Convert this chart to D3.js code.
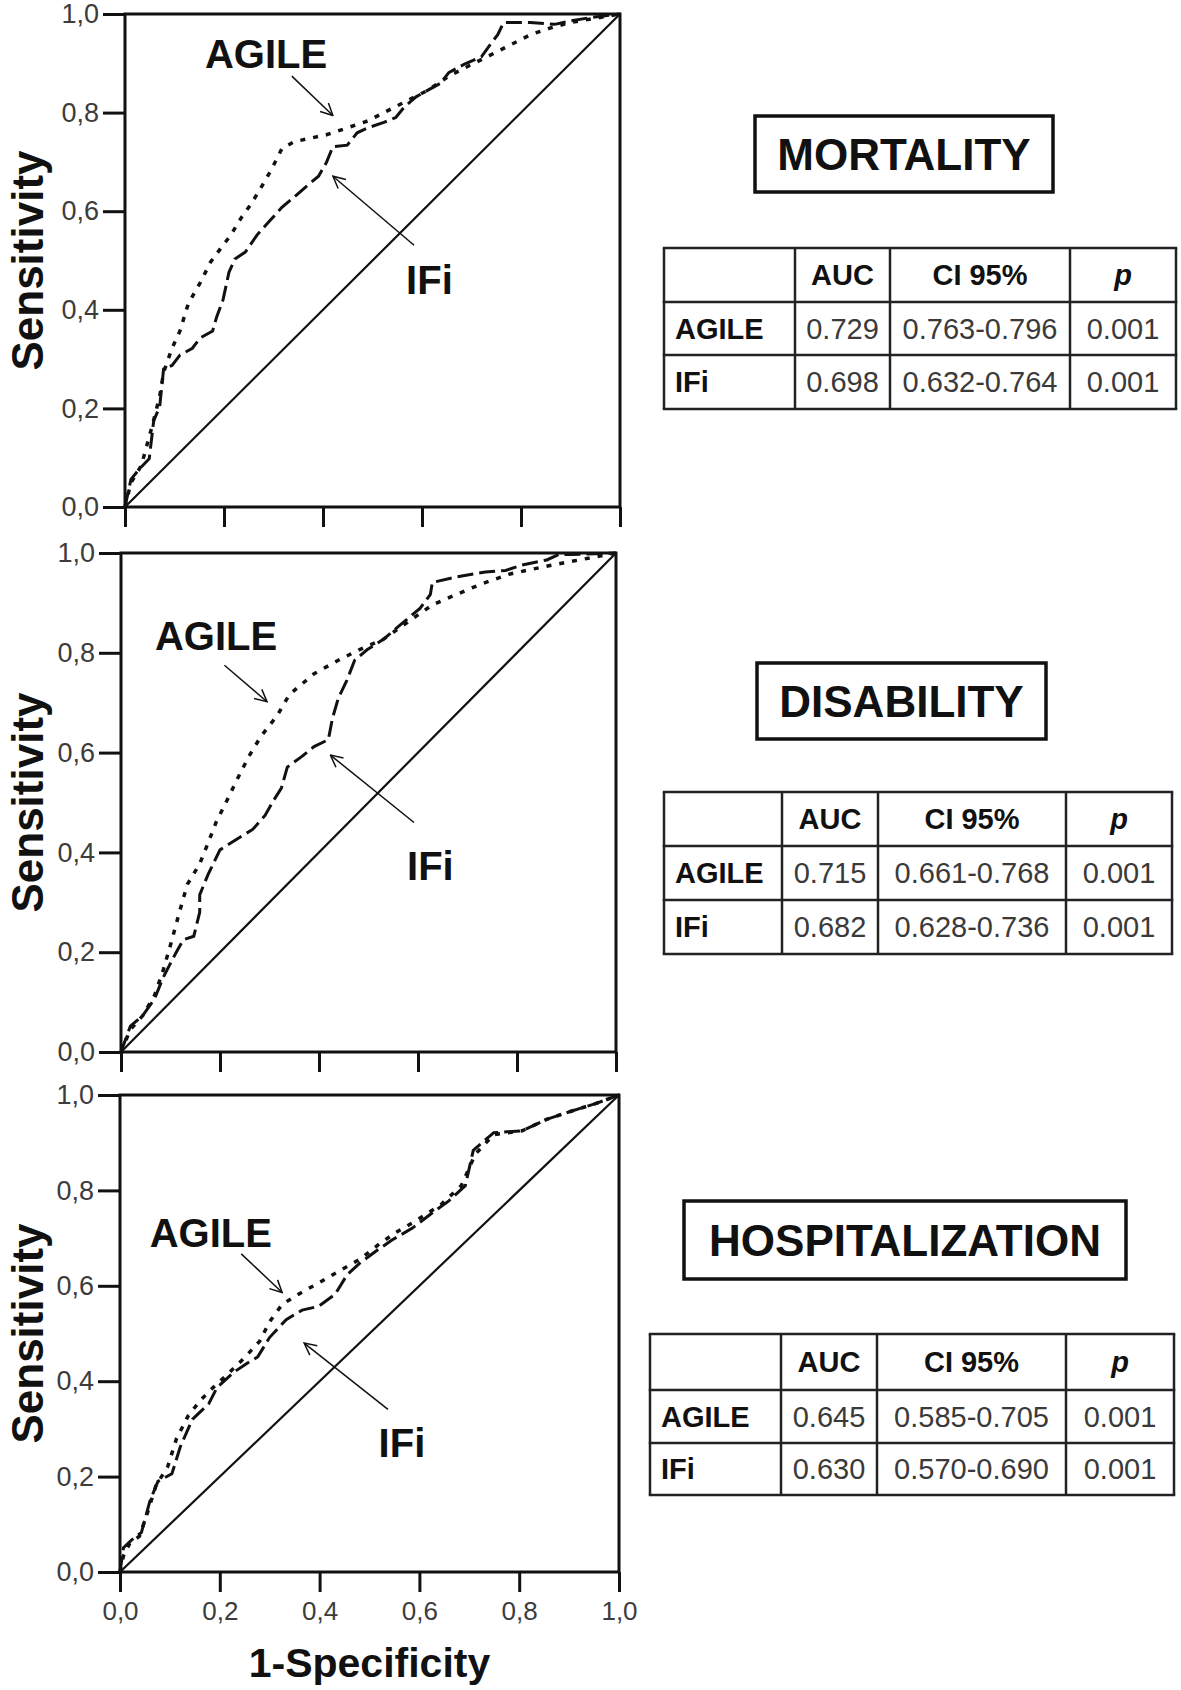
<!DOCTYPE html>
<html>
<head>
<meta charset="utf-8">
<script src="https://cdn.jsdelivr.net/npm/d3@7"></script>
<style>
  html, body { margin: 0; padding: 0; background: #fff; }
  svg { display: block; }
</style>
</head>
<body>
<svg id="chart" width="1181" height="1690"></svg>
<script>
// ---------------- DATA ----------------
const outcomes = ["MORTALITY", "DISABILITY", "HOSPITALIZATION"];
const seriesNames = ["AGILE", "IFi"];
const tickValues = [0, 0.2, 0.4, 0.6, 0.8, 1.0];
const tickLabels = ["0,0", "0,2", "0,4", "0,6", "0,8", "1,0"];
const xAxisTitle = "1-Specificity";
const yAxisTitle = "Sensitivity";

// ROC curves [1-specificity, sensitivity]
const mortalityAgile = [[0,0],[0.012,0.049],[0.033,0.084],[0.054,0.161],[0.070,0.224],[0.078,0.273],[0.095,0.322],[0.111,0.357],[0.128,0.413],[0.152,0.455],[0.173,0.497],[0.193,0.524],[0.214,0.552],[0.235,0.587],[0.255,0.615],[0.276,0.650],[0.296,0.685],[0.317,0.727],[0.342,0.741],[0.374,0.748],[0.407,0.755],[0.449,0.769],[0.490,0.783],[0.531,0.804],[0.572,0.825],[0.613,0.846],[0.654,0.874],[0.695,0.895],[0.737,0.916],[0.778,0.937],[0.819,0.958],[0.860,0.972],[0.901,0.983],[0.942,0.990],[1,1]];
const mortalityIFi = [[0,0],[0.012,0.056],[0.029,0.077],[0.049,0.098],[0.058,0.175],[0.070,0.203],[0.078,0.280],[0.095,0.287],[0.111,0.308],[0.136,0.322],[0.152,0.343],[0.177,0.357],[0.185,0.385],[0.198,0.420],[0.210,0.476],[0.222,0.503],[0.243,0.517],[0.267,0.552],[0.292,0.580],[0.317,0.608],[0.342,0.629],[0.366,0.650],[0.391,0.671],[0.407,0.699],[0.420,0.731],[0.449,0.734],[0.469,0.759],[0.490,0.769],[0.523,0.780],[0.547,0.790],[0.564,0.811],[0.588,0.832],[0.613,0.846],[0.638,0.860],[0.654,0.881],[0.687,0.899],[0.720,0.913],[0.737,0.937],[0.753,0.958],[0.765,0.983],[0.819,0.983],[0.868,0.979],[0.901,0.986],[0.942,0.993],[1,1]];

const disabilityAgile = [[0,0],[0.019,0.045],[0.044,0.073],[0.068,0.114],[0.085,0.163],[0.101,0.218],[0.118,0.280],[0.134,0.336],[0.159,0.377],[0.176,0.419],[0.192,0.460],[0.213,0.502],[0.233,0.543],[0.258,0.592],[0.283,0.633],[0.316,0.675],[0.340,0.716],[0.390,0.758],[0.439,0.785],[0.481,0.806],[0.530,0.827],[0.580,0.862],[0.629,0.896],[0.678,0.917],[0.728,0.938],[0.786,0.958],[0.852,0.972],[0.909,0.983],[1,1]];
const disabilityIFi = [[0,0],[0.019,0.052],[0.044,0.073],[0.068,0.107],[0.085,0.149],[0.110,0.197],[0.126,0.225],[0.147,0.232],[0.159,0.280],[0.159,0.315],[0.176,0.356],[0.200,0.405],[0.233,0.426],[0.266,0.446],[0.291,0.474],[0.307,0.502],[0.324,0.529],[0.336,0.571],[0.365,0.592],[0.390,0.612],[0.419,0.626],[0.427,0.668],[0.439,0.709],[0.456,0.744],[0.472,0.785],[0.497,0.806],[0.530,0.827],[0.563,0.855],[0.604,0.889],[0.625,0.917],[0.629,0.941],[0.678,0.952],[0.736,0.962],[0.777,0.965],[0.810,0.976],[0.860,0.986],[0.884,0.997],[0.909,0.997],[1,1]];

const hospitalAgile = [[0,0],[0.007,0.034],[0.019,0.059],[0.039,0.075],[0.055,0.124],[0.072,0.181],[0.096,0.222],[0.113,0.279],[0.137,0.328],[0.162,0.361],[0.186,0.386],[0.219,0.418],[0.251,0.451],[0.280,0.484],[0.300,0.525],[0.325,0.561],[0.357,0.582],[0.398,0.606],[0.439,0.631],[0.480,0.655],[0.520,0.688],[0.553,0.712],[0.594,0.737],[0.643,0.770],[0.684,0.810],[0.712,0.876],[0.749,0.917],[0.806,0.925],[0.855,0.949],[0.904,0.966],[0.953,0.982],[1,1]];
const hospitalIFi = [[0,0],[0.007,0.051],[0.023,0.067],[0.043,0.083],[0.060,0.149],[0.076,0.190],[0.104,0.206],[0.121,0.263],[0.145,0.320],[0.178,0.353],[0.194,0.386],[0.227,0.418],[0.251,0.435],[0.276,0.451],[0.300,0.492],[0.333,0.529],[0.365,0.549],[0.398,0.557],[0.431,0.582],[0.455,0.623],[0.480,0.647],[0.512,0.672],[0.545,0.696],[0.586,0.721],[0.626,0.753],[0.659,0.778],[0.692,0.810],[0.708,0.884],[0.749,0.921],[0.806,0.925],[0.855,0.949],[0.904,0.966],[0.953,0.982],[1,1]];

// table contents
const tableHeader = ["", "AUC", "CI 95%", "p"];
const mortalityAUC = ["0.729", "0.698"];
const mortalityCI = ["0.763-0.796", "0.632-0.764"];
const mortalityP = ["0.001", "0.001"];
const disabilityAUC = ["0.715", "0.682"];
const disabilityCI = ["0.661-0.768", "0.628-0.736"];
const disabilityP = ["0.001", "0.001"];
const hospitalAUC = ["0.645", "0.630"];
const hospitalCI = ["0.585-0.705", "0.570-0.690"];
const hospitalP = ["0.001", "0.001"];

// ---------------- LAYOUT ----------------
const FONT = "'Liberation Sans', Arial, Helvetica, sans-serif";
const panels = [
  { title: outcomes[0], agile: mortalityAgile, ifi: mortalityIFi,
    auc: mortalityAUC, ci: mortalityCI, p: mortalityP,
    frame: {l:125, r:620, t:14, b:507}, xLabels: false,
    agileLbl: [0.285, 0.920], agileArrow: [[0.337,0.874],[0.420,0.794]],
    ifiLbl: [0.615, 0.462], ifiArrow: [[0.584,0.531],[0.420,0.671]],
    box: {x0:755, x1:1053, y0:116, y1:192},
    table: {cols:[664, 795, 890, 1070, 1176], rows:[248, 302, 355, 409]} },
  { title: outcomes[1], agile: disabilityAgile, ifi: disabilityIFi,
    auc: disabilityAUC, ci: disabilityCI, p: disabilityP,
    frame: {l:121, r:616, t:553, b:1052}, xLabels: false,
    agileLbl: [0.192, 0.834], agileArrow: [[0.209,0.775],[0.295,0.702]],
    ifiLbl: [0.625, 0.374], ifiArrow: [[0.592,0.460],[0.423,0.595]],
    box: {x0:757, x1:1046, y0:663, y1:739},
    table: {cols:[664, 782, 878, 1066, 1172], rows:[792, 846, 900, 954]} },
  { title: outcomes[2], agile: hospitalAgile, ifi: hospitalIFi,
    auc: hospitalAUC, ci: hospitalCI, p: hospitalP,
    frame: {l:120, r:619, t:1095, b:1572}, xLabels: true,
    agileLbl: [0.182, 0.712], agileArrow: [[0.243,0.667],[0.325,0.586]],
    ifiLbl: [0.565, 0.271], ifiArrow: [[0.537,0.341],[0.369,0.480]],
    box: {x0:684, x1:1126, y0:1201, y1:1279},
    table: {cols:[650, 781, 877, 1066, 1174], rows:[1334, 1390, 1443, 1495]} }
];

const svg = d3.select("#chart");

const defs = svg.append("defs");
defs.append("marker")
  .attr("id", "arrow")
  .attr("viewBox", "0 0 14 14")
  .attr("refX", 13).attr("refY", 7)
  .attr("markerWidth", 14).attr("markerHeight", 14)
  .attr("markerUnits", "userSpaceOnUse")
  .attr("orient", "auto")
  .append("path")
  .attr("d", "M1,1 L13,7 L1,13")
  .attr("fill", "none").attr("stroke", "#111").attr("stroke-width", 1.5);

const fmt = (d) => tickLabels[tickValues.indexOf(d)];

panels.forEach((P) => {
  const f = P.frame;
  const x = d3.scaleLinear().domain([0, 1]).range([f.l, f.r]);
  const y = d3.scaleLinear().domain([0, 1]).range([f.b, f.t]);
  const g = svg.append("g");

  // y axis
  const ya = g.append("g").attr("transform", `translate(${f.l},0)`)
    .call(d3.axisLeft(y).tickValues(tickValues).tickFormat(fmt).tickSize(22).tickSizeOuter(0).tickPadding(4));
  // x axis
  const xa = g.append("g").attr("transform", `translate(0,${f.b})`)
    .call(d3.axisBottom(x).tickValues(tickValues).tickFormat(P.xLabels ? fmt : () => "").tickSize(20).tickSizeOuter(0).tickPadding(10));
  [ya, xa].forEach(a => {
    a.select(".domain").remove();
    a.selectAll(".tick line").attr("stroke", "#111").attr("stroke-width", 3);
    a.selectAll(".tick text").attr("fill", "#3c3c3c")
      .style("font-family", FONT).style("font-size", "26px");
  });
  ya.selectAll(".tick text").style("font-size", "27px");

  // frame
  g.append("rect")
    .attr("x", x(0)).attr("y", y(1))
    .attr("width", x(1) - x(0)).attr("height", y(0) - y(1))
    .attr("fill", "none").attr("stroke", "#111").attr("stroke-width", 3);

  // diagonal
  g.append("line")
    .attr("x1", x(0)).attr("y1", y(0)).attr("x2", x(1)).attr("y2", y(1))
    .attr("stroke", "#111").attr("stroke-width", 2.2);

  const line = d3.line().x(d => x(d[0])).y(d => y(d[1]));
  g.append("path").datum(P.agile).attr("d", line)
    .attr("fill", "none").attr("stroke", "#111").attr("stroke-width", 3.5)
    .attr("stroke-dasharray", "5,8");
  g.append("path").datum(P.ifi).attr("d", line)
    .attr("fill", "none").attr("stroke", "#111").attr("stroke-width", 3)
    .attr("stroke-dasharray", "16,6");

  // annotations
  const ann = [[seriesNames[0], P.agileLbl, P.agileArrow], [seriesNames[1], P.ifiLbl, P.ifiArrow]];
  ann.forEach(([name, pos, arr]) => {
    g.append("text").text(name)
      .attr("x", x(pos[0])).attr("y", y(pos[1]))
      .attr("text-anchor", "middle").attr("dy", "0.36em")
      .style("font-family", FONT).style("font-size", "40px").style("font-weight", "bold")
      .attr("fill", "#111");
    g.append("line")
      .attr("x1", x(arr[0][0])).attr("y1", y(arr[0][1]))
      .attr("x2", x(arr[1][0])).attr("y2", y(arr[1][1]))
      .attr("stroke", "#111").attr("stroke-width", 1.5)
      .attr("marker-end", "url(#arrow)");
  });

  // y axis title
  g.append("text").text(yAxisTitle)
    .attr("transform", `translate(43,${(f.t + f.b) / 2}) rotate(-90)`)
    .attr("text-anchor", "middle")
    .style("font-family", FONT).style("font-size", "44px").style("font-weight", "bold")
    .attr("fill", "#111");

  if (P.xLabels) {
    g.append("text").text(xAxisTitle)
      .attr("x", (f.l + f.r) / 2).attr("y", 1677)
      .attr("text-anchor", "middle")
      .style("font-family", FONT).style("font-size", "41px").style("font-weight", "bold")
      .attr("fill", "#111");
  }

  // title box
  const B = P.box;
  g.append("rect").attr("x", B.x0).attr("y", B.y0)
    .attr("width", B.x1 - B.x0).attr("height", B.y1 - B.y0)
    .attr("fill", "none").attr("stroke", "#111").attr("stroke-width", 3.5);
  g.append("text").text(P.title)
    .attr("x", (B.x0 + B.x1) / 2).attr("y", (B.y0 + B.y1) / 2)
    .attr("dy", "0.36em").attr("text-anchor", "middle")
    .style("font-family", FONT).style("font-size", "44px").style("font-weight", "bold")
    .attr("fill", "#111");

  // table
  const T = P.table;
  const tg = g.append("g");
  T.cols.forEach(cx => tg.append("line")
    .attr("x1", cx).attr("x2", cx).attr("y1", T.rows[0]).attr("y2", T.rows[T.rows.length - 1])
    .attr("stroke", "#222").attr("stroke-width", 2.5));
  T.rows.forEach(ry => tg.append("line")
    .attr("x1", T.cols[0] - 1.25).attr("x2", T.cols[T.cols.length - 1] + 1.25).attr("y1", ry).attr("y2", ry)
    .attr("stroke", "#222").attr("stroke-width", 2.5));

  const cellRows = [
    tableHeader,
    [seriesNames[0], P.auc[0], P.ci[0], P.p[0]],
    [seriesNames[1], P.auc[1], P.ci[1], P.p[1]]
  ];
  cellRows.forEach((row, ri) => {
    const cy = (T.rows[ri] + T.rows[ri + 1]) / 2;
    row.forEach((val, ci) => {
      if (!val) return;
      const isLabel = ci === 0;
      const isHeader = ri === 0;
      const t = tg.append("text").text(val)
        .attr("x", isLabel ? T.cols[0] + 11 : (T.cols[ci] + T.cols[ci + 1]) / 2)
        .attr("y", cy).attr("dy", "0.36em")
        .attr("text-anchor", isLabel ? "start" : "middle")
        .style("font-family", FONT).style("font-size", "29px")
        .attr("fill", (isHeader || isLabel) ? "#111" : "#3a3a3a");
      if (isHeader || isLabel) t.style("font-weight", "bold");
      if (isHeader && ci === 3) t.style("font-style", "italic");
    });
  });
});
</script>
</body>
</html>
